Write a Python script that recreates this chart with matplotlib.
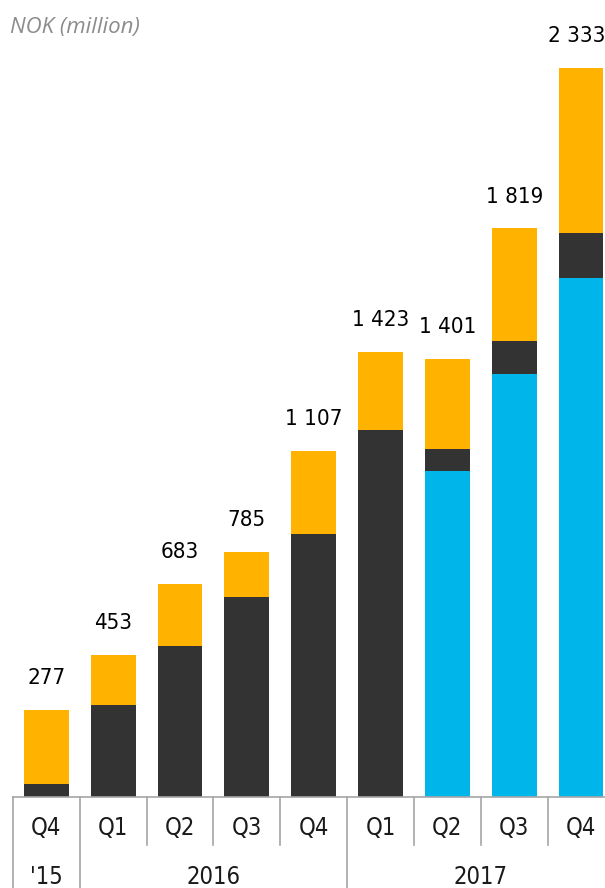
import matplotlib
matplotlib.use('Agg')
import matplotlib.pyplot as plt
import matplotlib.transforms as mtransforms

QUARTERS = ['Q4', 'Q1', 'Q2', 'Q3', 'Q4', 'Q1', 'Q2', 'Q3', 'Q4']
TOTAL_LABELS = ['277', '453', '683', '785', '1 107', '1 423', '1 401', '1 819', '2 333']
CYAN_VALUES = [0, 0, 0, 0, 0, 0, 1043, 1354, 1659]
DARK_VALUES = [41, 294, 483, 640, 842, 1174, 72, 106, 147]
ORANGE_VALUES = [236, 159, 200, 145, 265, 249, 286, 359, 527]
YEARS = ["'15", '2016', '2017']
YEAR_SPANS = [(0, 0), (1, 4), (5, 8)]

CYAN = '#00B5E9'
DARK = '#333333'
ORANGE = '#FFB300'
GRID_GRAY = '#A6A6A6'
NARROW = ['DejaVu Sans']

W, H = 605, 888
fig = plt.figure(figsize=(W / 100, H / 100), dpi=100)
ax = fig.add_axes([13 / W, 91 / H, (W - 13) / W, 797 / H])

x = list(range(len(QUARTERS)))
bw = 0.67
ax.bar(x, CYAN_VALUES, bw, color=CYAN)
ax.bar(x, DARK_VALUES, bw, bottom=CYAN_VALUES, color=DARK)
bottom2 = [c + d for c, d in zip(CYAN_VALUES, DARK_VALUES)]
ax.bar(x, ORANGE_VALUES, bw, bottom=bottom2, color=ORANGE)

ax.set_xlim(-0.5, 8.36)
ax.set_ylim(0, 2550)

# totals above the bars (last one nudged left so it stays inside the picture)
for i, lab in enumerate(TOTAL_LABELS):
    top = bottom2[i] + ORANGE_VALUES[i]
    dx = -3 if i == len(TOTAL_LABELS) - 1 else 0
    ax.annotate(lab, (i, top), xytext=(dx, 23), textcoords='offset points',
                ha='center', va='center', fontsize=16, family=NARROW,
                stretch='condensed', color='black')

for s in ax.spines.values():
    s.set_visible(False)
ax.set_xticks([])
ax.set_yticks([])
ax.axhline(0, color=GRID_GRAY, lw=1.2, clip_on=False)

# category table below the axis
trans = mtransforms.blended_transform_factory(ax.transData, ax.transAxes)
long_seps = [s - 0.5 for s, e in YEAR_SPANS]
for k in range(len(QUARTERS)):
    sx = k - 0.5
    y_end = -0.115 if sx in long_seps else -0.06
    ax.plot([sx, sx], [0, y_end], color=GRID_GRAY, lw=1.2, transform=trans, clip_on=False)

for i, q in enumerate(QUARTERS):
    ax.text(i, -0.039, q, transform=trans, ha='center', va='center',
            fontsize=17, family=NARROW, stretch='condensed', color='#1a1a1a')

for yr, (s, e) in zip(YEARS, YEAR_SPANS):
    ax.text((s + e) / 2, -0.101, yr, transform=trans, ha='center', va='center',
            fontsize=17, family=NARROW, stretch='condensed', color='#1a1a1a')

fig.text(10 / W, 1 - 28 / H, 'NOK (million)', ha='left', va='center',
         fontsize=16, family=['Open Sans', 'DejaVu Sans'], style='italic', color='#8C8C8C')

fig.savefig('out.png', dpi=100)
